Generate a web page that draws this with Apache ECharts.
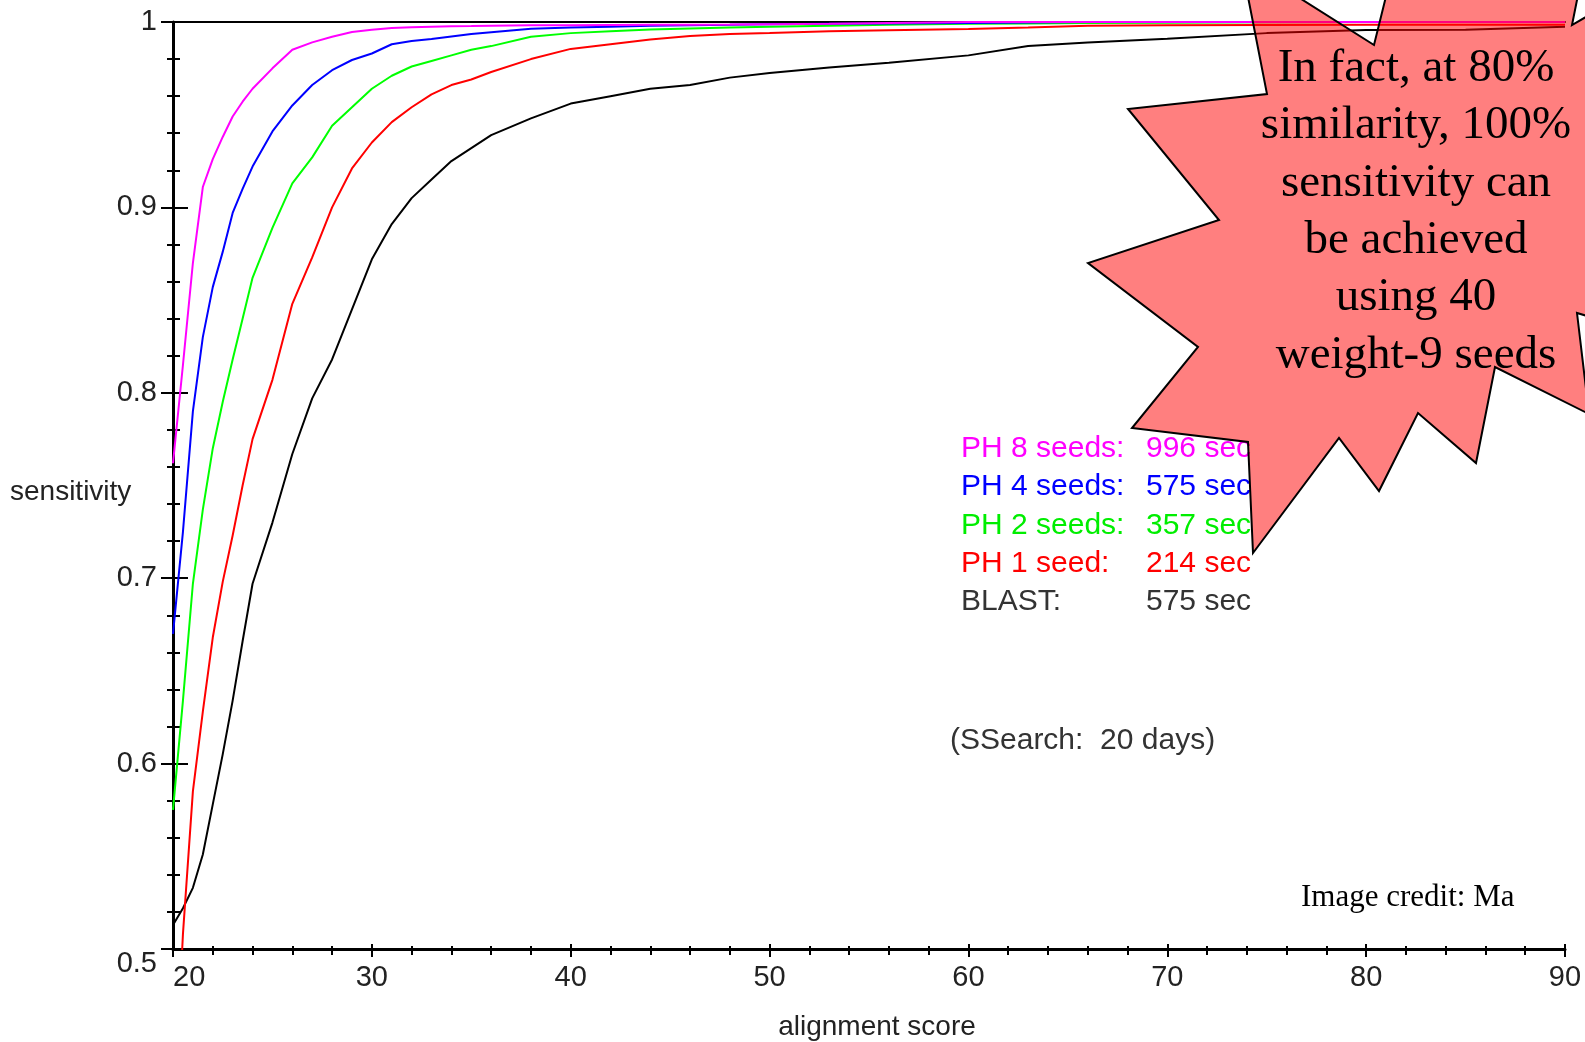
<!DOCTYPE html>
<html>
<head>
<meta charset="utf-8">
<script src="https://cdn.jsdelivr.net/npm/echarts@6/dist/echarts.min.js"></script>
<style>
  html, body { margin: 0; padding: 0; background: #fff; }
  #chart { width: 1585px; height: 1042px; }
</style>
</head>
<body>
<div id="chart"></div>
<script>
// alignment score samples (x)
const scores = [20, 20.5, 21, 21.5, 22, 22.5, 23, 23.5, 24, 25, 26, 27, 28, 29, 30, 31, 32, 33, 34, 35,
  36, 38, 40, 42, 44, 46, 48, 50, 53, 56, 60, 63, 66, 70, 75, 80, 85, 90];

// sensitivity per method
const ph8 = [0.762, 0.815, 0.870, 0.911, 0.926, 0.938, 0.949, 0.957, 0.964, 0.975, 0.985, 0.989, 0.992, 0.9946, 0.9958, 0.9967, 0.9972, 0.9975, 0.9977, 0.9978,
  0.998, 0.9982, 0.9983, 0.9984, 0.9985, 0.9985, 0.9986, 0.9988, 0.999, 0.9995, 1, 1, 1, 1, 1, 1, 1, 1];
const ph4 = [0.670, 0.725, 0.790, 0.830, 0.857, 0.876, 0.897, 0.910, 0.922, 0.941, 0.955, 0.966, 0.974, 0.9795, 0.983, 0.988, 0.9898, 0.9908, 0.9922, 0.9935,
  0.9945, 0.9963, 0.997, 0.9975, 0.998, 0.9983, 0.9985, 0.9988, 0.999, 0.9992, 0.9995, 0.9997, 1, 1, 1, 1, 1, 1];
const ph2 = [0.575, 0.634, 0.697, 0.737, 0.770, 0.795, 0.818, 0.840, 0.862, 0.889, 0.913, 0.927, 0.944, 0.954, 0.964, 0.971, 0.976, 0.979, 0.982, 0.985,
  0.987, 0.992, 0.994, 0.995, 0.996, 0.9965, 0.997, 0.9975, 0.998, 0.9985, 0.999, 0.9992, 0.9994, 0.9996, 0.9998, 1, 1, 1];
const ph1 = [0.40, 0.508, 0.585, 0.628, 0.668, 0.698, 0.723, 0.750, 0.775, 0.807, 0.848, 0.873, 0.900, 0.921, 0.935, 0.946, 0.954, 0.961, 0.966, 0.969,
  0.973, 0.980, 0.9855, 0.988, 0.9905, 0.9925, 0.9935, 0.994, 0.995, 0.9955, 0.9962, 0.997, 0.998, 0.9983, 0.9984, 0.9985, 0.9985, 0.9985];
const blast = [0.513, 0.522, 0.533, 0.551, 0.578, 0.605, 0.634, 0.666, 0.697, 0.730, 0.767, 0.797, 0.818, 0.845, 0.872, 0.891, 0.905, 0.915, 0.925, 0.932,
  0.939, 0.948, 0.956, 0.960, 0.964, 0.966, 0.970, 0.9725, 0.9755, 0.978, 0.982, 0.987, 0.989, 0.991, 0.994, 0.9957, 0.9958, 0.9975];

// legend text (two columns)
const legendNames = ['PH 8 seeds:', 'PH 4 seeds:', 'PH 2 seeds:', 'PH 1 seed:', 'BLAST:'];
const legendTimes = ['996 sec', '575 sec', '357 sec', '214 sec', '575 sec'];
const legendColors = ['#ff00ff', '#0000ff', '#00ee00', '#ff0000', '#333333'];

const burstText = 'In fact, at 80%\nsimilarity, 100%\nsensitivity can\nbe achieved\nusing 40\nweight-9 seeds';

const sans = 'Liberation Sans, Arial, sans-serif';
const serif = 'Liberation Serif, Times New Roman, serif';

function pairs(vals) {
  return scores.map((s, i) => [s, vals[i]]);
}

function line(name, vals, color) {
  return {
    name: name,
    type: 'line',
    data: pairs(vals),
    showSymbol: false,
    xAxisIndex: 0,
    yAxisIndex: 0,
    lineStyle: { color: color, width: 2 },
    itemStyle: { color: color },
    animation: false
  };
}

const chart = echarts.init(document.getElementById('chart'));

const gridRect = { left: 173, right: 20, top: 22, bottom: 93, containLabel: false, outerBoundsMode: 'none' };

// star burst outline, pixel coords (annotation, not data)
const burstPoints = [
  [1241, -39], [1267, 94], [1128, 109], [1219, 220], [1088, 263], [1198, 347], [1132, 428], [1248, 442],
  [1253, 553], [1339, 438], [1379, 491], [1418, 413], [1476, 463], [1495, 367], [1589, 414], [1577, 313],
  [1650, 335], [1610, 170], [1650, -20], [1572, 25], [1585, -40], [1490, -20], [1395, -40], [1374, 45]
];

const graphics = [];
legendNames.forEach((n, i) => {
  const y = 451 + i * 38.2;
  graphics.push({ type: 'text', left: 961, top: y - 17, z: 10,
    style: { text: n, fill: legendColors[i], font: '30px ' + sans } });
  graphics.push({ type: 'text', left: 1146, top: y - 17, z: 10,
    style: { text: legendTimes[i], fill: legendColors[i], font: '30px ' + sans } });
});
graphics.push({ type: 'text', left: 950, top: 743 - 17, z: 10,
  style: { text: '(SSearch:  20 days)', fill: '#333', font: '30px ' + sans } });
graphics.push({ type: 'text', left: 1301, top: 900 - 18, z: 10,
  style: { text: 'Image credit: Ma', fill: '#000', font: '31px ' + serif } });
// axis titles
graphics.push({ type: 'text', x: 10, y: 492, z: 10,
  style: { text: 'sensitivity', fill: '#222', font: '28px ' + sans, align: 'left', verticalAlign: 'middle' } });
graphics.push({ type: 'text', x: 877, y: 1027, z: 10,
  style: { text: 'alignment score', fill: '#222', font: '28px ' + sans, align: 'center', verticalAlign: 'middle' } });
graphics.push({ type: 'polygon', z: 100,
  shape: { points: burstPoints },
  style: { fill: 'rgba(255,0,0,0.5)', stroke: '#000', lineWidth: 2 } });
graphics.push({ type: 'text', x: 1416, y: 212, z: 110,
  style: { text: burstText, fill: '#000', font: '47px ' + serif, align: 'center', verticalAlign: 'middle', lineHeight: 57.4 } });

chart.setOption({
  backgroundColor: '#fff',
  animation: false,
  grid: [gridRect, Object.assign({}, gridRect)],
  xAxis: [
    {
      type: 'value', gridIndex: 0, position: 'bottom', min: 20, max: 90, interval: 10,
      axisLine: { show: true, lineStyle: { color: '#000', width: 3 } },
      axisTick: { show: true, inside: false, length: 8, lineStyle: { color: '#000', width: 2 } },
      minorTick: { show: true, splitNumber: 5, length: 6, lineStyle: { color: '#000', width: 2 } },
      axisLabel: { show: true, margin: 14, fontFamily: sans, fontSize: 29, color: '#222', alignMinLabel: 'left' },
      splitLine: { show: false }, minorSplitLine: { show: false }
    },
    {
      type: 'value', gridIndex: 0, position: 'top', min: 20, max: 90,
      axisLine: { show: true, lineStyle: { color: '#000', width: 2 } },
      axisTick: { show: false }, axisLabel: { show: false }, splitLine: { show: false }
    },
    {
      type: 'value', gridIndex: 1, position: 'bottom', min: 20, max: 90, interval: 10,
      axisLine: { show: false },
      axisTick: { show: true, inside: true, length: 5, lineStyle: { color: '#000', width: 2 } },
      minorTick: { show: true, splitNumber: 5, length: 3, lineStyle: { color: '#000', width: 2 } },
      axisLabel: { show: false }, splitLine: { show: false }
    }
  ],
  yAxis: [
    {
      type: 'value', gridIndex: 0, position: 'left', min: 0.5, max: 1, interval: 0.1,
      axisLine: { show: true, lineStyle: { color: '#000', width: 3 } },
      axisTick: { show: true, inside: false, length: 12, lineStyle: { color: '#000', width: 2 } },
      minorTick: { show: true, splitNumber: 5, length: 6, lineStyle: { color: '#000', width: 2 } },
      axisLabel: { show: true, margin: 16, fontFamily: sans, fontSize: 29, color: '#222', verticalAlignMinLabel: 'top' },
      splitLine: { show: false }, minorSplitLine: { show: false }
    },
    {
      type: 'value', gridIndex: 1, position: 'left', min: 0.5, max: 1, interval: 0.1,
      axisLine: { show: false },
      axisTick: { show: true, inside: true, length: 15, lineStyle: { color: '#000', width: 2 } },
      minorTick: { show: true, splitNumber: 5, length: 7, lineStyle: { color: '#000', width: 2 } },
      axisLabel: { show: false }, splitLine: { show: false }
    }
  ],
  graphic: graphics,
  series: [
    line('BLAST', blast, '#000000'),
    line('PH 1 seed', ph1, '#ff0000'),
    line('PH 2 seeds', ph2, '#00ff00'),
    line('PH 4 seeds', ph4, '#0000ff'),
    line('PH 8 seeds', ph8, '#ff00ff')
  ]
});
</script>
</body>
</html>
